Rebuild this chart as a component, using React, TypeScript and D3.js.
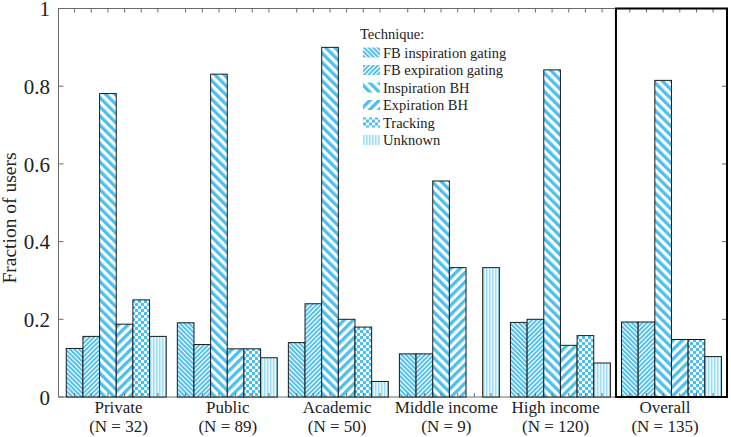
import React from "react";
import * as d3 from "d3";

const categories = ["Private", "Public", "Academic", "Middle income", "High income", "Overall"];
const counts = ["(N = 32)", "(N = 89)", "(N = 50)", "(N = 9)", "(N = 120)", "(N = 135)"];
const techniques = [
  "FB inspiration gating",
  "FB expiration gating",
  "Inspiration BH",
  "Expiration BH",
  "Tracking",
  "Unknown",
];
// values per technique, one entry per category
const fbInspiration = [0.125, 0.191, 0.14, 0.111, 0.192, 0.193];
const fbExpiration = [0.156, 0.135, 0.24, 0.111, 0.2, 0.193];
const inspirationBH = [0.781, 0.831, 0.9, 0.556, 0.842, 0.815];
const expirationBH = [0.1875, 0.124, 0.2, 0.333, 0.133, 0.148];
const tracking = [0.25, 0.124, 0.18, 0, 0.158, 0.148];
const unknown = [0.156, 0.101, 0.04, 0.333, 0.0875, 0.104];
const series = [fbInspiration, fbExpiration, inspirationBH, expirationBH, tracking, unknown];
const yTicks = [0, 0.2, 0.4, 0.6, 0.8, 1];

const W = 731;
const H = 437;
const left = 58.5;
const right = 727;
const top = 8.5;
const bottom = 397;
const BLUE = "#4cbfee";
const patIds = ["p0", "p1", "p2", "p3", "p4", "p5"];
const FONT = "'Liberation Serif', 'Times New Roman', serif";

export default function App() {
  const x = d3.scaleLinear().domain([0.48, 6.5]).range([left, right]);
  const y = d3.scaleLinear().domain([0, 1]).range([bottom, top]);
  const xLabel = d3.scaleLinear().domain([1, 6]).range([118.5, 665]);
  const step = 0.15;
  const bw = x(step) - x(0);

  const bars: any[] = [];
  const ticksX: number[] = [];
  categories.forEach((c, g) => {
    series.forEach((s, k) => {
      const cx = x(g + 1 + (k - 2.5) * step);
      ticksX.push(cx);
      const v = s[g];
      if (v > 0) {
        bars.push(
          <rect
            key={`${g}-${k}`}
            x={cx - bw / 2}
            y={y(v)}
            width={bw}
            height={y(0) - y(v)}
            fill={`url(#${patIds[k]})`}
            stroke="#1a1a1a"
            strokeWidth={1}
          />
        );
      }
    });
  });

  return (
    <svg width={W} height={H} style={{ display: "block", position: "absolute", left: 0, top: 0 }}>
      <defs>
        <pattern id="p0" patternUnits="userSpaceOnUse" width={3.2} height={3.2} patternTransform="rotate(-45)">
          <rect width={3.2} height={3.2} fill="#ffffff" />
          <rect width={2} height={3.2} fill={BLUE} />
        </pattern>
        <pattern id="p1" patternUnits="userSpaceOnUse" width={3.2} height={3.2} patternTransform="rotate(45)">
          <rect width={3.2} height={3.2} fill="#ffffff" />
          <rect width={1.9} height={3.2} fill={BLUE} />
        </pattern>
        <pattern id="p2" patternUnits="userSpaceOnUse" width={6.5} height={6.5} patternTransform="rotate(-45)">
          <rect width={6.5} height={6.5} fill="#ffffff" />
          <rect width={3.3} height={6.5} fill={BLUE} />
        </pattern>
        <pattern id="p3" patternUnits="userSpaceOnUse" width={6.5} height={6.5} patternTransform="rotate(45)">
          <rect width={6.5} height={6.5} fill="#ffffff" />
          <rect width={3.3} height={6.5} fill={BLUE} />
        </pattern>
        <pattern id="p4" patternUnits="userSpaceOnUse" width={6} height={6}>
          <rect width={6} height={6} fill="#ffffff" />
          <rect width={3} height={3} fill={BLUE} />
          <rect x={3} y={3} width={3} height={3} fill={BLUE} />
        </pattern>
        <pattern id="p5" patternUnits="userSpaceOnUse" width={3} height={3}>
          <rect width={3} height={3} fill="#e6f7fd" />
          <rect width={1.4} height={3} fill="#9fdcf5" />
        </pattern>
      </defs>

      {/* axes frame */}
      <rect x={left} y={top} width={right - left} height={bottom - top} fill="#fff" stroke="#6b6b6b" strokeWidth={1} />

      {bars}

      {/* x ticks top & bottom */}
      {ticksX.map((tx, i) => (
        <g key={`xt${i}`} stroke="#6b6b6b" strokeWidth={1}>
          <line x1={tx} x2={tx} y1={bottom} y2={bottom - 4} />
          <line x1={tx} x2={tx} y1={top} y2={top + 4} />
        </g>
      ))}

      {/* y ticks */}
      {yTicks.map((t) => (
        <g key={`yt${t}`}>
          <line x1={left} x2={left + 5} y1={y(t)} y2={y(t)} stroke="#6b6b6b" />
          <line x1={right} x2={right - 5} y1={y(t)} y2={y(t)} stroke="#6b6b6b" />
          <text x={50} y={y(t) + 0.5} dy="0.35em" textAnchor="end" fontFamily={FONT} fontSize={21} fill="#222">
            {d3.format("~g")(t)}
          </text>
        </g>
      ))}

      {/* overall highlight box */}
      <rect x={x(5.5)} y={top} width={right - x(5.5)} height={bottom - top} fill="none" stroke="#000" strokeWidth={2} />

      {/* category labels */}
      {categories.map((c, g) => (
        <g key={c} fontFamily={FONT} fontSize={17} fill="#222" textAnchor="middle">
          <text x={xLabel(g + 1)} y={413}>{c}</text>
          <text x={xLabel(g + 1)} y={432}>{counts[g]}</text>
        </g>
      ))}

      {/* y label */}
      <text
        transform={`translate(16, 218) rotate(-90)`}
        textAnchor="middle"
        fontFamily={FONT}
        fontSize={19.5}
        fill="#222"
      >
        Fraction of users
      </text>

      {/* legend */}
      <g fontFamily={FONT} fontSize={14.5} fill="#222">
        <text x={360} y={39}>Technique:</text>
        {techniques.map((t, k) => (
          <g key={t} transform={`translate(363, ${52.5 + k * 17.5})`}>
            <rect x={0} y={-5} width={17} height={10} fill={`url(#${patIds[k]})`} />
            <text x={20} y={0} dy="0.35em">{t}</text>
          </g>
        ))}
      </g>
    </svg>
  );
}
